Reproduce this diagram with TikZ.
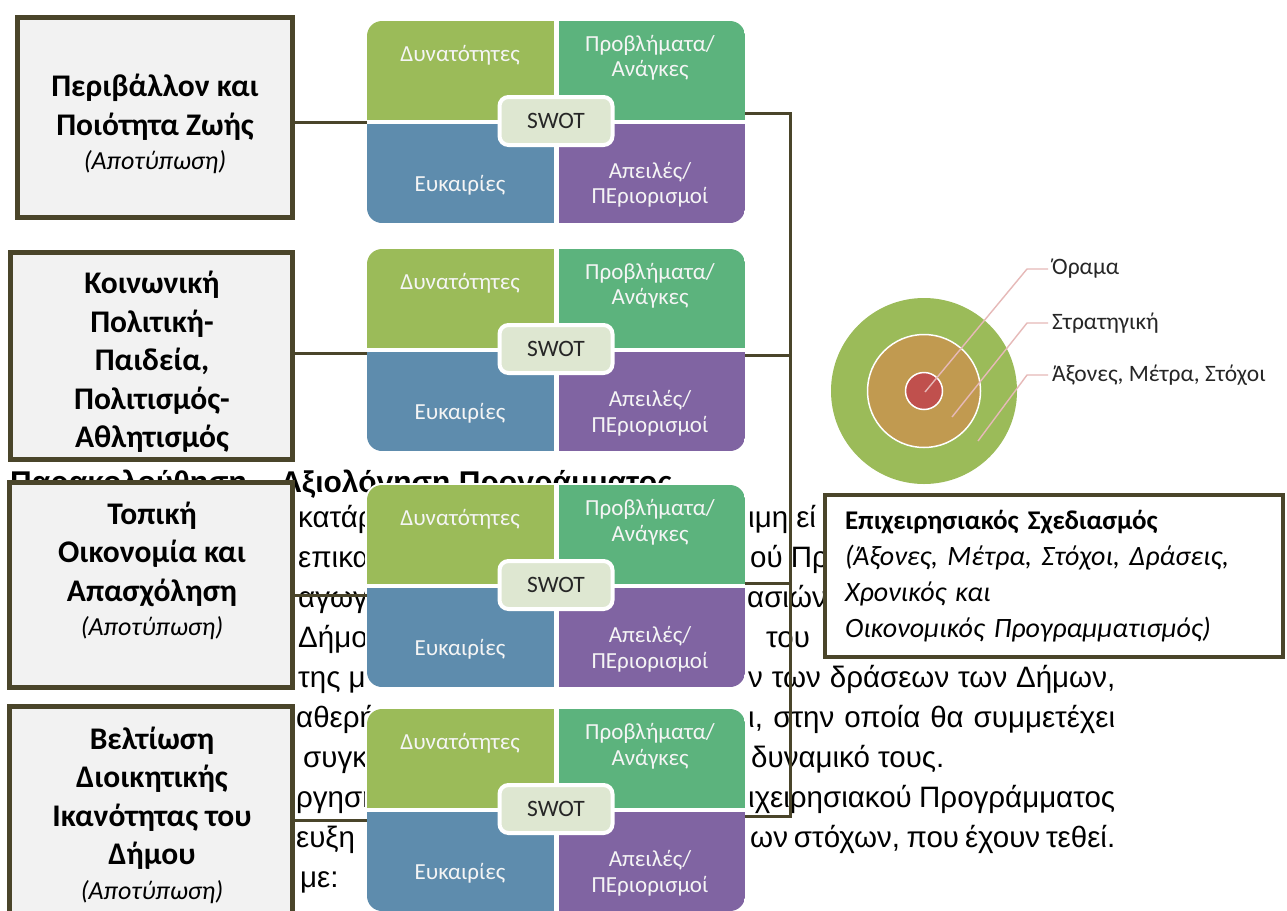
\documentclass[tikz,border=0pt]{standalone}
\usepackage{fontspec}
\setmainfont{Carlito}
\newfontfamily\bgfont{Liberation Sans}
\usetikzlibrary{calc}
\definecolor{frame}{HTML}{4A452A}
\definecolor{boxfill}{HTML}{F2F2F2}
\definecolor{swS}{HTML}{9BBB59}
\definecolor{swW}{HTML}{5CB37D}
\definecolor{swO}{HTML}{5E8CAD}
\definecolor{swT}{HTML}{8064A2}
\definecolor{swC}{HTML}{DEE7D1}
\definecolor{ringO}{HTML}{9BBB59}
\definecolor{ringM}{HTML}{C19A50}
\definecolor{ringI}{HTML}{C0504D}
\definecolor{leadc}{HTML}{E6B9B8}
\newcommand\fsz[2]{\fontsize{#1}{#2}\selectfont}
\newcommand\jline[2]{\makebox[#1][s]{#2}}
\tikzset{
  leftbox/.style={draw=frame, line width=5pt, fill=boxfill, inner sep=0pt},
  boxtxt/.style={align=center, font=\fsz{31.5}{38.5}\bfseries, text=black, inner sep=0pt},
  conn/.style={draw=frame, line width=3pt},
  swq/.style={text=white!96!black, font=\fsz{23}{25.5}, align=center, inner sep=0pt},
  swotc/.style={fill=swC, draw=white, line width=4pt, rounded corners=9pt,
     minimum width=113pt, minimum height=48pt, font=\fsz{23.5}{26}, text=black!85},
  bgtxt/.style={font=\bgfont\fsz{29.5}{40}, inner sep=0pt, anchor=base west},
  leaderline/.style={draw=leadc, line width=1.4pt},
  lbl/.style={font=\fsz{23.5}{26}, text=black!85, anchor=west, inner sep=4pt},
  ring/.style={circle, inner sep=0pt},
  swot/.pic={
    \fill[white, rounded corners=17pt] (-191,-103) rectangle (191,103);
    \begin{scope}
      \clip[rounded corners=15pt] (-189,-101) rectangle (189,101);
      \fill[swS] (-189,-101) rectangle (-2.5,-2);
      \fill[swW] (2.5,-101) rectangle (189,-2);
      \fill[swO] (-189,2) rectangle (-2.5,101);
      \fill[swT] (2.5,2) rectangle (189,101);
    \end{scope}
    \node[swq] (-s) at (-96,-67) {Δυνατότητες};
    \node[swq] (-w) at (94,-64) {Προβλήματα/\\Ανάγκες};
    \node[swq] (-o) at (-96,63) {Ευκαιρίες};
    \node[swq] (-t) at (94,63) {Απειλές/\\ΠΕριορισμοί};
    \node[swotc] (-c) at (0,-1) {SWOT};
    \node[inner sep=0pt, minimum width=378pt, minimum height=202pt] (-box) at (0,0) {};
  }
}
\begin{document}
\begin{tikzpicture}[x=1pt,y=-1pt]
\useasboundingbox (0,0) rectangle (1287,910);
\fill[white] (0,0) rectangle (1287,910);

% background document text (visible fragments)
\node[bgtxt, font=\bgfont\bfseries\fsz{30}{40}] (hd) at (10,492) {Παρακολούθηση – Αξιολόγηση Προγράμματος};
\node[bgtxt] (l1) at (298,527) {κατάρ};
\node[bgtxt] (l2) at (298,567) {επικα};
\node[bgtxt] (l3) at (298,607) {αγωγι};
\node[bgtxt] (l4) at (298,647) {Δήμο};
\node[bgtxt] (l5) at (298,687) {της μ};
\node[bgtxt] (l6) at (296,727) {αθερή};
\node[bgtxt] (l7) at (303,767) {συγκ};
\node[bgtxt] (l8) at (296,807) {ργηση};
\node[bgtxt] (l9) at (296,847) {ευξη};
\node[bgtxt] (l10) at (300,887) {με:};
\node[bgtxt] (r1) at (748,527) {ιμη εί};
\node[bgtxt] (r2) at (750,567) {ού Πρ};
\node[bgtxt] (r3) at (747,607) {ασιών};
\node[bgtxt] (r4) at (766,647) {του};
\node[bgtxt] (r5) at (748,687) {\jline{367pt}{ν των δράσεων των Δήμων,}};
\node[bgtxt] (r6) at (748,727) {\jline{367pt}{ι, στην οποία θα συμμετέχει}};
\node[bgtxt] (r7) at (751,767) {δυναμικό τους.};
\node[bgtxt] (r8) at (748,807) {\jline{367pt}{ιχειρησιακού Προγράμματος}};
\node[bgtxt] (r9) at (750,847) {\jline{365pt}{ων στόχων, που έχουν τεθεί.}};

% SWOT blocks
\pic (s1) at (556,122) {swot};
\pic (s2) at (556,350) {swot};
\pic (s3) at (556,586) {swot};
\pic (s4) at (556,810) {swot};

% left boxes
\node[leftbox, minimum width=275pt, minimum height=200pt] (b1) at (155,117.5) {};
\node[leftbox, minimum width=282pt, minimum height=207pt] (b2) at (151.5,356) {};
\node[leftbox, minimum width=283pt, minimum height=205pt] (b3) at (151,585) {};
\node[leftbox, minimum width=283pt, minimum height=231pt] (b4) at (151,822) {};

\node[boxtxt] (t1) at (155,124) {Περιβάλλον και\\Ποιότητα Ζωής\\[-4pt]{\mdseries\itshape\fsz{26}{30}(Αποτύπωση)}};
\node[boxtxt] (t2) at (152,362) {Κοινωνική\\Πολιτική-\\Παιδεία,\\Πολιτισμός-\\Αθλητισμός};
\node[boxtxt] (t3) at (152,571) {Τοπική\\Οικονομία και\\Απασχόληση\\[-4pt]{\mdseries\itshape\fsz{26}{30}(Αποτύπωση)}};
\node[boxtxt] (t4) at (152,815) {Βελτίωση\\Διοικητικής\\Ικανότητας του\\Δήμου\\[-4pt]{\mdseries\itshape\fsz{26}{30}(Αποτύπωση)}};

% connectors
\coordinate (bus) at (790,0);
\path ([yshift=0pt]s1-box.west) coordinate (w1)
      ([yshift=-3pt]s2-box.west) coordinate (w2)
      ([yshift=-9pt]s3-box.west) coordinate (w3)
      ([yshift=-10pt]s4-box.west) coordinate (w4)
      ([yshift=9pt]s1-box.east) coordinate (e1)
      ([yshift=-5pt]s2-box.east) coordinate (e2)
      ([yshift=3pt]s3-box.east) coordinate (e3)
      ([yshift=-6pt]s4-box.east) coordinate (e4);
\draw[conn] (b1.east |- w1) -- (w1);
\draw[conn] (b2.east |- w2) -- (w2);
\draw[conn] (b3.east |- w3) -- (w3);
\draw[conn] (b4.east |- w4) -- (w4);
\draw[conn] (e1) -| (e4 -| bus) -- (e4);
\draw[conn] (e2) -- (e2 -| bus);
\draw[conn] (e3) -- (e3 -| bus);

% operational planning box
\node[draw=frame, line width=3.5pt, fill=white, minimum height=162pt,
      text width=418pt, inner xsep=20pt, align=left, font=\fsz{28}{36}] (ops) at (1054,576)
  {{\bfseries\fsz{27}{36}Επιχειρησιακός Σχεδιασμός}\\
   \textit{(Άξονες, Μέτρα, Στόχοι, Δράσεις,}\\
   \textit{Χρονικός και}\\
   \textit{Οικονομικός Προγραμματισμός)}};

% concentric circles
\node[ring, fill=ringO, minimum size=186pt] (cO) at (924,391) {};
\node[ring, fill=ringM, draw=white, line width=1.5pt, minimum size=113pt] (cM) at (924,391) {};
\node[ring, fill=ringI, draw=white, line width=1.5pt, minimum size=37pt] (cI) at (924,391) {};
\node[lbl] (lO) at (1048,269) {Όραμα};
\node[lbl] (lS) at (1048,323) {Στρατηγική};
\node[lbl] (lA) at (1048,375) {Άξονες, Μέτρα, Στόχοι};
\coordinate (k1) at (1027,269);
\coordinate (k2) at (1027,323);
\coordinate (k3) at (1027,375);
\path ($(cI.center)+(1,1)$) coordinate (p1)
      ($(cM.center)+(28,26)$) coordinate (p2)
      ($(cO.center)+(54,50)$) coordinate (p3);
\draw[leaderline] (p1) -- (k1) -- (lO.west);
\draw[leaderline] (p2) -- (k2) -- (lS.west);
\draw[leaderline] (p3) -- (k3) -- (lA.west);
\end{tikzpicture}
\end{document}
